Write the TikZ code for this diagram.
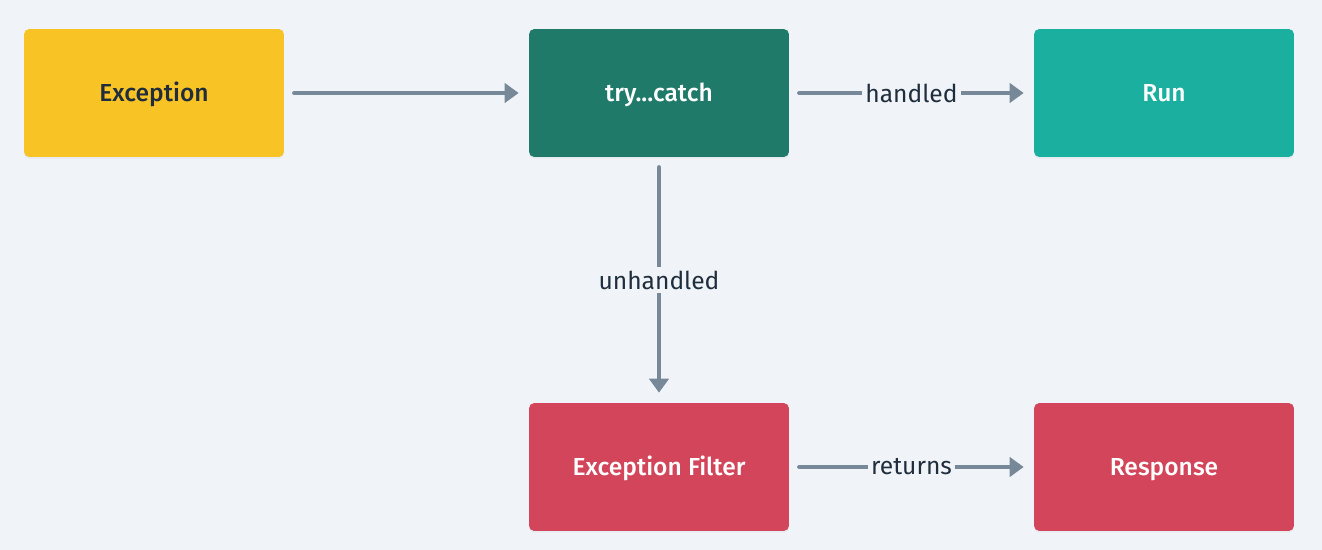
\documentclass[tikz,border=0pt]{standalone}
\usepackage{fontspec}
\setmainfont{Fira Sans}[BoldFont={Fira Sans Medium}]
\usetikzlibrary{arrows.meta, shadows}
\definecolor{bgcol}{HTML}{F0F4F8}
\definecolor{yellowbox}{HTML}{F8C325}
\definecolor{greenbox}{HTML}{207A69}
\definecolor{tealbox}{HTML}{1BAFA0}
\definecolor{redbox}{HTML}{D3455B}
\definecolor{arrowcol}{HTML}{778899}
\definecolor{darktext}{HTML}{1F2D3D}
\tikzset{
  box/.style={rectangle, rounded corners=3pt, minimum width=5.2cm, minimum height=2.56cm,
    font=\fontsize{14}{16}\selectfont\bfseries, inner sep=0pt, text height=9.6pt, text depth=0pt,
    drop shadow={shadow xshift=0pt, shadow yshift=-1pt, opacity=0.08}},
  flow/.style={arrowcol, line width=2.6pt, line cap=round, shorten <=0.2cm, shorten >=0.2cm,
    -{Triangle[length=8pt, width=11pt]}},
  lbl/.style={fill=bgcol, text=darktext, inner sep=2pt, font=\fontsize{14}{16}\selectfont}
}
\begin{document}
\begin{tikzpicture}[x=0.02cm, y=-0.02cm]
        \fill[bgcol] (0,0) rectangle (1322,550);
        \useasboundingbox (0,0) rectangle (1322,550);

        \node[box, fill=yellowbox, text=darktext] (exc) at (154,93) {Exception};
        \node[box, fill=greenbox, text=white] (try) at (659,93) {try...catch};
        \node[box, fill=tealbox, text=white] (run) at (1164,93) {Run};
        \node[box, fill=redbox, text=white] (filter) at (659,467) {Exception Filter};
        \node[box, fill=redbox, text=white] (resp) at (1164,467) {Response};

        \draw[flow] (exc) -- (try);
        \draw[flow] (try) -- node[lbl] {handled} (run);
        \draw[flow] (try) -- node[lbl] {unhandled} (filter);
        \draw[flow] (filter) -- node[lbl] {returns} (resp);
    \end{tikzpicture}
\end{document}
